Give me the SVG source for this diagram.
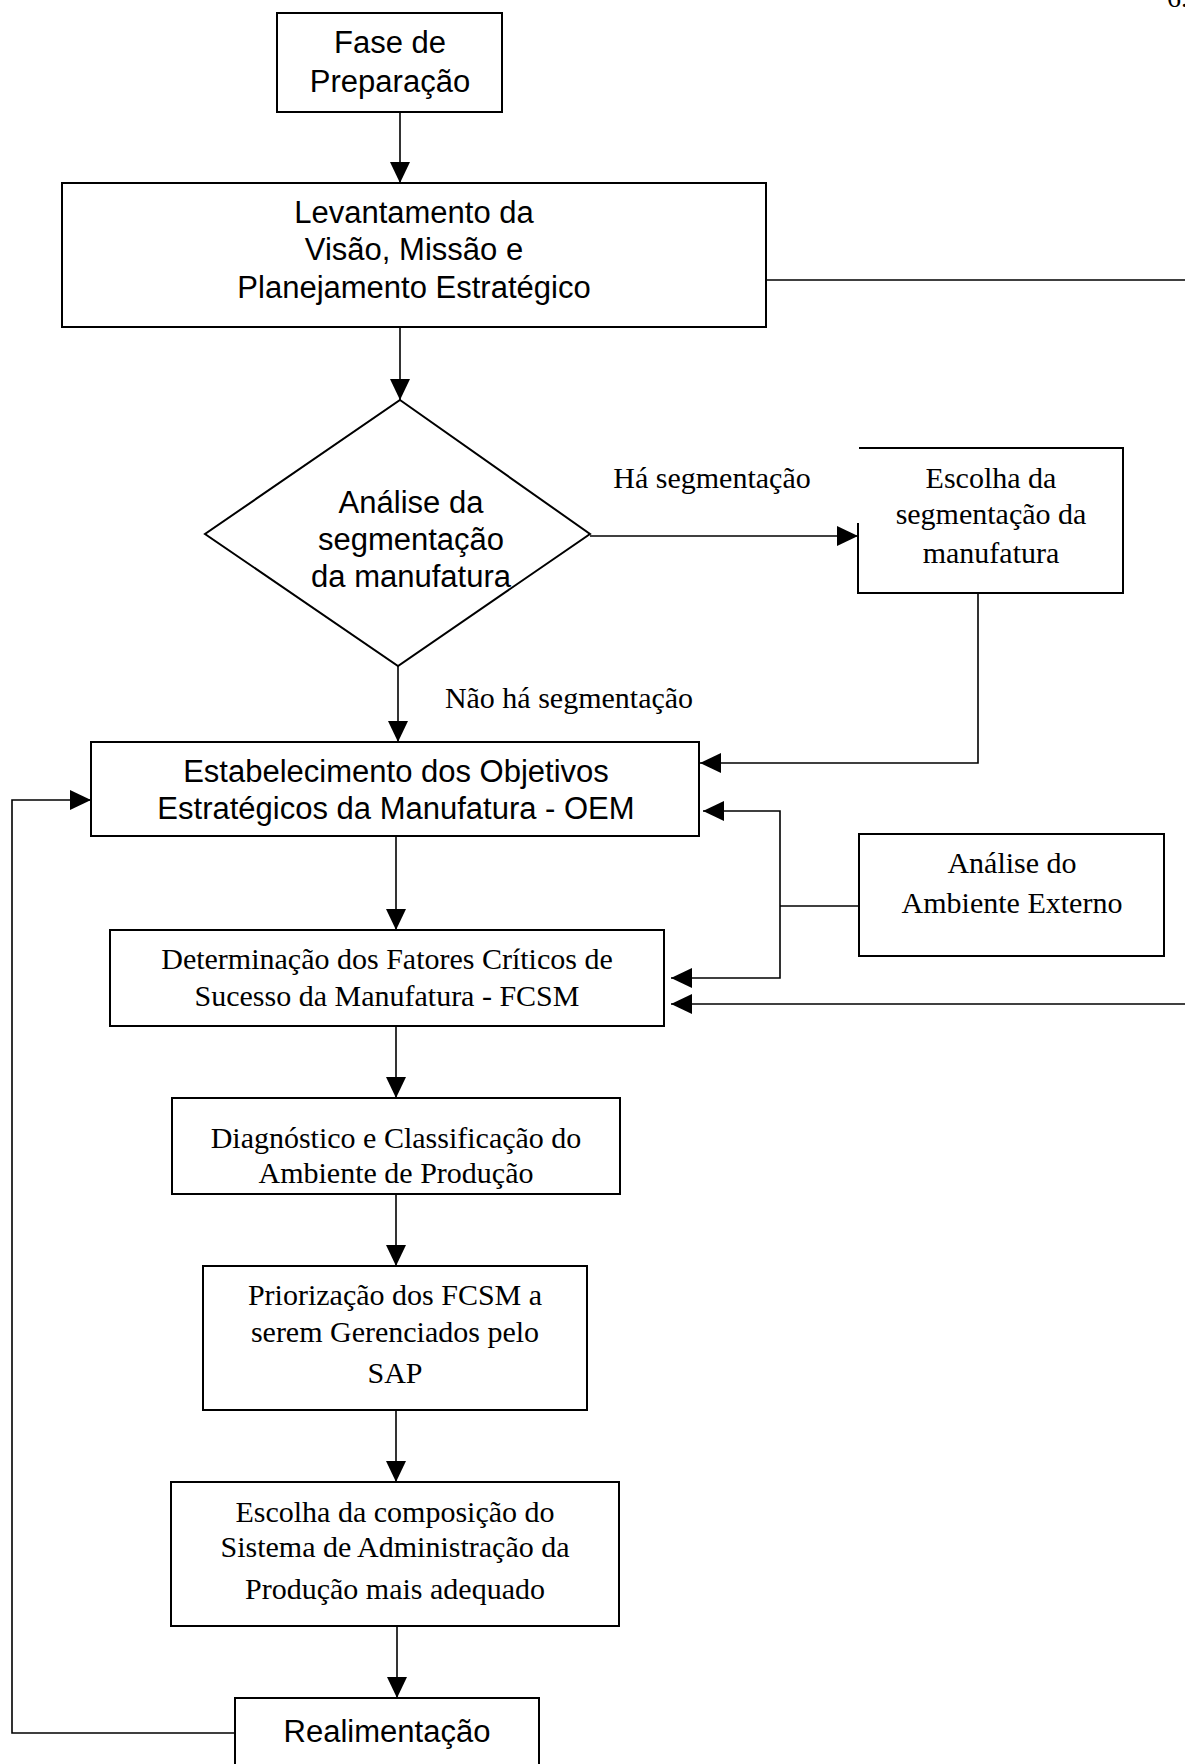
<svg xmlns="http://www.w3.org/2000/svg" width="1185" height="1764" viewBox="0 0 1185 1764">
  <style>
    .box { fill: #ffffff; stroke: #000000; stroke-width: 2; }
    .edge { fill: none; stroke: #000000; stroke-width: 1.6; }
    .arrow { marker-end: url(#head); }
    .sans { font-family: "Liberation Sans", Arial, sans-serif; font-size: 31px; fill: #000000; text-anchor: middle; }
    .serif { font-family: "Liberation Serif", "Times New Roman", serif; font-size: 30px; fill: #000000; text-anchor: middle; }
  </style>
  <defs>
    <marker id="head" markerUnits="userSpaceOnUse" markerWidth="21" markerHeight="20" refX="21" refY="10" orient="auto">
      <path d="M0,0 L21,10 L0,20 Z" fill="#000000"/>
    </marker>
  </defs>

  <rect width="1185" height="1764" fill="#ffffff"/>

  <!-- page number, cut at the top edge -->
  <text x="1167" y="7" style="font-family: 'Liberation Serif', 'Times New Roman', serif; font-size: 28px;">6.</text>

  <!-- connectors -->
  <g id="connectors">
    <line class="edge arrow" x1="400" y1="112" x2="400" y2="183"/>
    <line class="edge arrow" x1="400" y1="327" x2="400" y2="400"/>
    <line class="edge" x1="766" y1="280" x2="1185" y2="280"/>
    <line class="edge arrow" x1="590" y1="536" x2="858" y2="536"/>
    <polyline class="edge arrow" points="978,593 978,763 700,763"/>
    <line class="edge arrow" x1="398" y1="666" x2="398" y2="742"/>
    <line class="edge arrow" x1="396" y1="836" x2="396" y2="930"/>
    <polyline class="edge" points="859,906 780,906"/>
    <polyline class="edge arrow" points="780,906 780,811 703,811"/>
    <polyline class="edge arrow" points="780,906 780,978 671,978"/>
    <line class="edge arrow" x1="1185" y1="1004" x2="671" y2="1004"/>
    <line class="edge arrow" x1="396" y1="1026" x2="396" y2="1098"/>
    <line class="edge arrow" x1="396" y1="1194" x2="396" y2="1266"/>
    <line class="edge arrow" x1="396" y1="1410" x2="396" y2="1482"/>
    <line class="edge arrow" x1="397" y1="1626" x2="397" y2="1698"/>
    <polyline class="edge arrow" points="235,1733 12,1733 12,800 91,800"/>
    <text class="serif" x="712" y="488">Há segmentação</text>
    <text class="serif" x="569" y="708">Não há segmentação</text>
  </g>

  <g id="fase-preparacao">
    <rect class="box" x="277" y="13" width="225" height="99"/>
    <text class="sans" x="390" y="53">Fase de</text>
    <text class="sans" x="390" y="92">Preparação</text>
  </g>

  <g id="levantamento">
    <rect class="box" x="62" y="183" width="704" height="144"/>
    <text class="sans" x="414" y="223">Levantamento da</text>
    <text class="sans" x="414" y="260">Visão, Missão e</text>
    <text class="sans" x="414" y="298">Planejamento Estratégico</text>
  </g>

  <g id="analise-segmentacao">
    <polygon class="box" points="400,400 590,534 398,666 205,534"/>
    <text class="sans" x="411" y="513">Análise da</text>
    <text class="sans" x="411" y="550">segmentação</text>
    <text class="sans" x="411" y="587">da manufatura</text>
  </g>

  <g id="escolha-segmentacao">
    <path class="box" d="M858,523 V593 H1123 V448 H859"/>
    <text class="serif" x="991" y="488">Escolha da</text>
    <text class="serif" x="991" y="524">segmentação da</text>
    <text class="serif" x="991" y="563">manufatura</text>
  </g>

  <g id="oem">
    <rect class="box" x="91" y="742" width="608" height="94"/>
    <text class="sans" x="396" y="782">Estabelecimento dos Objetivos</text>
    <text class="sans" x="396" y="819">Estratégicos da Manufatura - OEM</text>
  </g>

  <g id="ambiente-externo">
    <rect class="box" x="859" y="834" width="305" height="122"/>
    <text class="serif" x="1012" y="873">Análise do</text>
    <text class="serif" x="1012" y="913">Ambiente Externo</text>
  </g>

  <g id="fcsm">
    <rect class="box" x="110" y="930" width="554" height="96"/>
    <text class="serif" x="387" y="969">Determinação dos Fatores Críticos de</text>
    <text class="serif" x="387" y="1006">Sucesso da Manufatura - FCSM</text>
  </g>

  <g id="diagnostico">
    <rect class="box" x="172" y="1098" width="448" height="96"/>
    <text class="serif" x="396" y="1148">Diagnóstico e Classificação do</text>
    <text class="serif" x="396" y="1183">Ambiente de Produção</text>
  </g>

  <g id="priorizacao">
    <rect class="box" x="203" y="1266" width="384" height="144"/>
    <text class="serif" x="395" y="1305">Priorização dos FCSM a</text>
    <text class="serif" x="395" y="1342">serem Gerenciados pelo</text>
    <text class="serif" x="395" y="1383">SAP</text>
  </g>

  <g id="escolha-sap">
    <rect class="box" x="171" y="1482" width="448" height="144"/>
    <text class="serif" x="395" y="1522">Escolha da composição do</text>
    <text class="serif" x="395" y="1557">Sistema de Administração da</text>
    <text class="serif" x="395" y="1599">Produção mais adequado</text>
  </g>

  <g id="realimentacao">
    <rect class="box" x="235" y="1698" width="304" height="100"/>
    <text class="sans" x="387" y="1742">Realimentação</text>
  </g>
</svg>
